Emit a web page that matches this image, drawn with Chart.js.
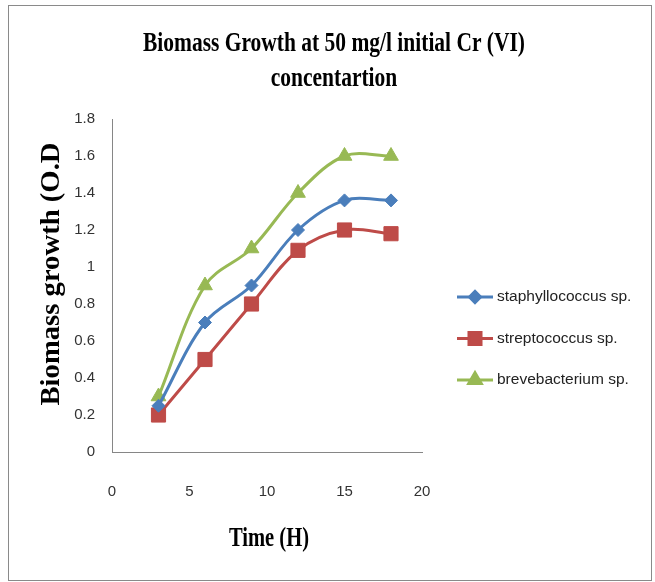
<!DOCTYPE html>
<html>
<head>
<meta charset="utf-8">
<script src="https://cdn.jsdelivr.net/npm/chart.js@4/dist/chart.umd.min.js"></script>
<style>
  body { margin: 0; background: #fff; }
  #wrap { width: 655px; height: 582px; }
</style>
</head>
<body>
<div id="wrap"><canvas id="growthChart" width="655" height="582"></canvas></div>
<script>
// Chart data
const timeHours = [3, 6, 9, 12, 15, 18];
const staphyllococcus = [0.25, 0.7, 0.9, 1.2, 1.36, 1.36];
const streptococcus = [0.2, 0.5, 0.8, 1.09, 1.2, 1.18];
const brevebacterium = [0.3, 0.9, 1.1, 1.4, 1.6, 1.6];
const seriesNames = ['staphyllococcus sp.', 'streptococcus sp.', 'brevebacterium sp.'];
const titleLines = ['Biomass Growth at 50 mg/l initial Cr (VI)', 'concentartion'];
const xTitle = 'Time (H)';
const yTitle = 'Biomass growth (O.D';

const serif = '"Liberation Serif", "Times New Roman", serif';
const narrow = '"Liberation Sans Narrow", "Arial Narrow", "Liberation Sans", sans-serif';

function toPoints(values) {
    return values.map((v, i) => ({ x: timeHours[i], y: v }));
}

// Draw text squeezed or stretched along its baseline
function drawFitText(ctx, text, x, y, font, width, rotation, baseline) {
    ctx.save();
    ctx.font = font;
    const measured = ctx.measureText(text).width;
    ctx.translate(x, y);
    if (rotation) ctx.rotate(rotation);
    ctx.scale(width / measured, 1);
    ctx.textAlign = 'center';
    ctx.textBaseline = baseline || 'alphabetic';
    ctx.fillStyle = '#000';
    ctx.fillText(text, 0, 0);
    ctx.restore();
}

// Frame, titles and legend
const decorPlugin = {
    id: 'decor',
    afterDraw(chart) {
        const ctx = chart.ctx;
        const area = chart.chartArea;

        ctx.save();
        ctx.strokeStyle = '#8a8a8a';
        ctx.lineWidth = 1;
        ctx.strokeRect(8.5, 5.5, 643, 575);
        ctx.restore();

        // chart title, centred on the whole chart (condensed bold serif)
        const font = 'bold 27px ' + serif;
        ctx.save();
        ctx.font = font;
        const squeeze = 382 / ctx.measureText(titleLines[0]).width;
        const widths = titleLines.map(line => ctx.measureText(line).width * squeeze);
        ctx.restore();
        titleLines.forEach((line, i) => {
            drawFitText(ctx, line, 334, 51 + i * 35, font, widths[i], 0);
        });

        // axis titles
        drawFitText(ctx, xTitle, (area.left + area.right) / 2 + 2, 546, 'bold 28px ' + serif, 80, 0);
        drawFitText(ctx, yTitle, 52, 274, 'bold 28px ' + serif, 263, -Math.PI / 2, 'middle');

        // legend: short line with the marker in the middle
        chart.data.datasets.forEach((ds, i) => {
            const y = 297 + i * 41.5;
            ctx.save();
            ctx.strokeStyle = ds.borderColor;
            ctx.fillStyle = ds.borderColor;
            ctx.lineWidth = 3;
            ctx.beginPath();
            ctx.moveTo(457, y);
            ctx.lineTo(493, y);
            ctx.stroke();
            Chart.helpers.drawPoint(ctx, {
                pointStyle: ds.pointStyle,
                radius: ds.pointRadius * 0.85,
                rotation: 0,
                borderWidth: 1
            }, 475, y);
            ctx.font = '15.5px ' + narrow;
            ctx.fillStyle = '#222';
            ctx.textAlign = 'left';
            ctx.textBaseline = 'middle';
            ctx.fillText(ds.label, 497, y);
            ctx.restore();
        });
    }
};

function makeSeries(label, values, color, style, radius) {
    return {
        label: label,
        data: toPoints(values),
        borderColor: color,
        backgroundColor: color,
        borderWidth: 3,
        tension: 0.35,
        pointStyle: style,
        pointRadius: radius,
        pointHoverRadius: radius,
        pointBorderWidth: 1,
        pointBackgroundColor: color,
        pointBorderColor: color
    };
}

const ctx = document.getElementById('growthChart').getContext('2d');
const growthChart = new Chart(ctx, {
    type: 'line',
    data: {
        datasets: [
            makeSeries(seriesNames[0], staphyllococcus, '#4A7EBB', 'rectRot', 6.5),
            makeSeries(seriesNames[1], streptococcus, '#BE4B48', 'rect', 10),
            makeSeries(seriesNames[2], brevebacterium, '#98B954', 'triangle', 8.5)
        ]
    },
    options: {
        responsive: false,
        animation: false,
        layout: {
            padding: { top: 119, right: 233, bottom: 0, left: 0 }
        },
        plugins: {
            legend: { display: false },
            tooltip: { enabled: false },
            title: { display: false }
        },
        scales: {
            x: {
                type: 'linear',
                min: 0,
                max: 20,
                grid: { display: false, drawTicks: false },
                border: { display: true, color: '#868686', width: 1 },
                ticks: {
                    stepSize: 5,
                    padding: 31,
                    color: '#333',
                    font: { family: narrow, size: 15 }
                },
                afterFit(scale) { scale.height = 130; }
            },
            y: {
                min: 0,
                max: 1.8,
                grid: { display: false, drawTicks: false },
                border: { display: true, color: '#868686', width: 1 },
                ticks: {
                    stepSize: 0.2,
                    padding: 17,
                    color: '#333',
                    font: { family: narrow, size: 15 },
                    callback: function(value) {
                        return String(parseFloat(value.toFixed(1)));
                    }
                },
                afterFit(scale) { scale.width = 112; }
            }
        }
    },
    plugins: [decorPlugin]
});
</script>
</body>
</html>
